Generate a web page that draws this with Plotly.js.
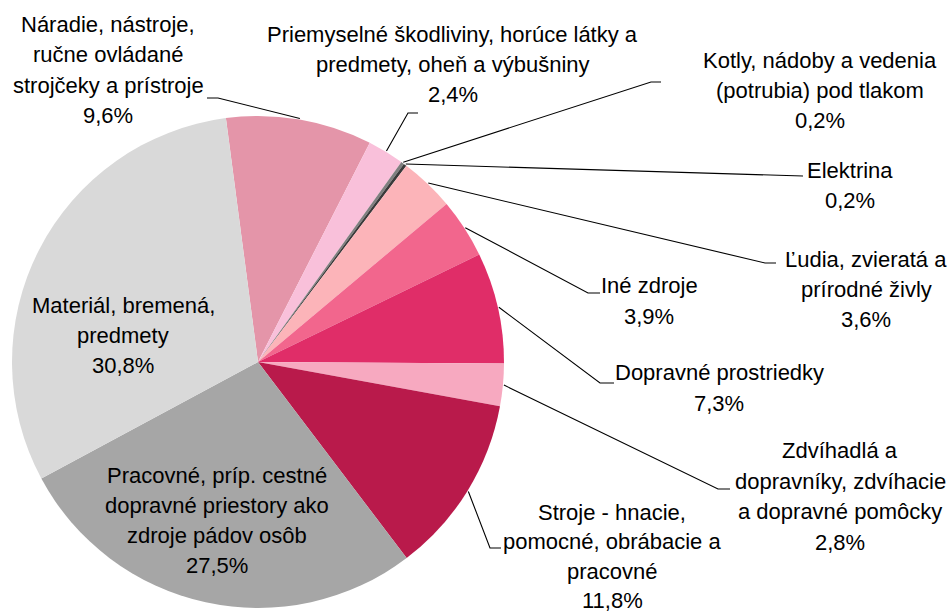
<!DOCTYPE html>
<html>
<head>
<meta charset="utf-8">
<script src="https://cdn.plot.ly/plotly-3.0.1.min.js"></script>
<style>
  html, body { margin: 0; padding: 0; background: #ffffff; }
  #chart { width: 951px; height: 613px; }
</style>
</head>
<body>
<div id="chart"></div>
<script>
// ---------- DATA ----------
const categoryLines = [
  ['Náradie, nástroje,', 'ručne ovládané', 'strojčeky a prístroje'],
  ['Priemyselné škodliviny, horúce látky a', 'predmety, oheň a výbušniny'],
  ['Kotly, nádoby a vedenia', '(potrubia) pod tlakom'],
  ['Elektrina'],
  ['Ľudia, zvieratá a', 'prírodné živly'],
  ['Iné zdroje'],
  ['Dopravné prostriedky'],
  ['Zdvíhadlá a', 'dopravníky, zdvíhacie', 'a dopravné pomôcky'],
  ['Stroje - hnacie,', 'pomocné, obrábacie a', 'pracovné'],
  ['Pracovné, príp. cestné', 'dopravné priestory ako', 'zdroje pádov osôb'],
  ['Materiál, bremená,', 'predmety']
];
const categories = categoryLines.map(l => l.join(' '));
const values = [9.6, 2.4, 0.2, 0.2, 3.6, 3.9, 7.3, 2.8, 11.8, 27.5, 30.8];
const percentLabels = values.map(v => v.toFixed(1).replace('.', ',') + '%');

// ---------- STYLE / LAYOUT ----------
const colors = ['#E495A9', '#F9C0DA', '#7F7F7F', '#3A3A3A', '#FCB4B9', '#F2668D',
                '#E02D68', '#F7A9C0', '#B91A4B', '#A6A6A6', '#D9D9D9'];
const W = 951, H = 613;
const pieCx = 258, pieCy = 362, pieR = 246;
const rotation = -7.5;
const fontFamily = 'Liberation Sans, Arial, Helvetica, sans-serif';
const fontSize = 22;

// label block: centre x, first baseline y, line spacing (pixels)
const labelPos = [
  [108, 32, 30.3], [452.5, 42, 30], [820, 68, 30], [849.5, 178, 30],
  [866, 267, 30], [649, 293, 31.5], [719, 380, 31.5], [840, 458, 30.7],
  [612, 520, 29.5], [217, 483, 30], [123, 313, 30]
];
// leader bend and end points (pixels); null = label inside slice
const leaderPts = [
  [[218, 98], [207, 98]],
  [[408, 113], [418, 113]],
  [[651, 82], [661, 82]],
  [[785, 176], [803, 176]],
  [[765, 263], [776, 263]],
  [[588, 293], [600, 293]],
  [[600, 383], [614, 383]],
  [[718, 489], [730, 489]],
  [[490, 548], [501, 548]],
  null, null
];

// ---------- BUILD ----------
const total = values.reduce((a, b) => a + b, 0);
let cum = 0;
const midAngles = values.map(v => {
  const m = rotation + 360 * (cum + v / 2) / total;
  cum += v;
  return m * Math.PI / 180;
});

const pieTrace = {
  type: 'pie',
  labels: categories,
  values: values,
  sort: false,
  direction: 'clockwise',
  rotation: rotation,
  marker: { colors: colors, line: { width: 0 } },
  textinfo: 'none',
  hoverinfo: 'none',
  showlegend: false,
  domain: {
    x: [(pieCx - pieR) / W, (pieCx + pieR) / W],
    y: [1 - (pieCy + pieR) / H, 1 - (pieCy - pieR) / H]
  }
};

const lx = [], ly = [];
leaderPts.forEach((pts, i) => {
  if (!pts) return;
  const a = midAngles[i];
  lx.push(pieCx + (pieR + 1) * Math.sin(a)); ly.push(pieCy - (pieR + 1) * Math.cos(a));
  pts.forEach(p => { lx.push(p[0]); ly.push(p[1]); });
  lx.push(null); ly.push(null);
});
const leaderTrace = {
  type: 'scatter', mode: 'lines', x: lx, y: ly,
  line: { color: '#000000', width: 1.1 },
  hoverinfo: 'skip', showlegend: false, xaxis: 'x', yaxis: 'y'
};

const annotations = [];
categoryLines.forEach((lines, i) => {
  const all = lines.concat([percentLabels[i]]);
  const [cx, b0, sp] = labelPos[i];
  all.forEach((t, j) => {
    annotations.push({
      xref: 'x', yref: 'y', x: cx, y: b0 + j * sp - 7.6,
      xanchor: 'center', yanchor: 'middle', showarrow: false,
      text: t, font: { family: fontFamily, size: fontSize, color: '#000000' }
    });
  });
});

const layout = {
  width: W, height: H,
  margin: { l: 0, r: 0, t: 0, b: 0, pad: 0 },
  paper_bgcolor: '#ffffff', plot_bgcolor: 'rgba(0,0,0,0)',
  showlegend: false,
  xaxis: { range: [0, W], visible: false, fixedrange: true, domain: [0, 1] },
  yaxis: { range: [H, 0], visible: false, fixedrange: true, domain: [0, 1] },
  annotations: annotations,
  font: { family: fontFamily, size: fontSize, color: '#000000' }
};

Plotly.newPlot('chart', [leaderTrace, pieTrace], layout, { staticPlot: true, displayModeBar: false });
</script>
</body>
</html>
